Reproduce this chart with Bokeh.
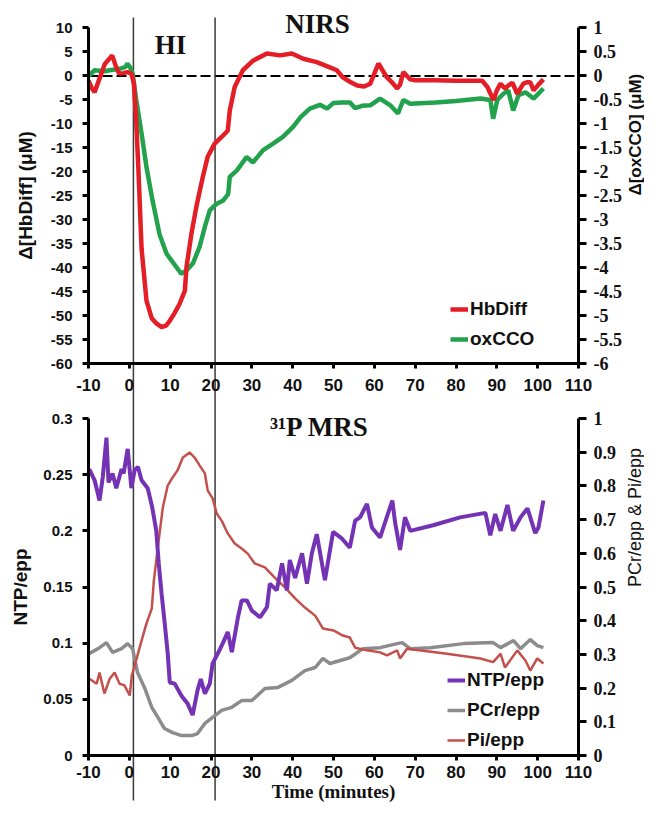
import math
from bokeh.plotting import figure
from bokeh.models import (Range1d, LinearAxis, FixedTicker, CustomJSTickFormatter,
                          Label, Legend, LegendItem)
from bokeh.embed import file_html
from bokeh.resources import INLINE

# ---------------- data ----------------
time_ticks = [-10, 0, 10, 20, 30, 40, 50, 60, 70, 80, 90, 100, 110]
hb_ticks = [-60, -55, -50, -45, -40, -35, -30, -25, -20, -15, -10, -5, 0, 5, 10]
cco_ticks = [-6, -5.5, -5, -4.5, -4, -3.5, -3, -2.5, -2, -1.5, -1, -0.5, 0, 0.5, 1]
ntp_ticks = [0, 0.05, 0.1, 0.15, 0.2, 0.25, 0.3]
pcr_ticks = [0, 0.1, 0.2, 0.3, 0.4, 0.5, 0.6, 0.7, 0.8, 0.9, 1]

hi_marks = [1, 21]          # start / end of hypoxia-ischaemia (minutes)

hb_t = [-10, -9.2, -8.5, -7.5, -6, -4.2, -3.3, -2.5, -1.5, -0.5,
        0.5, 1.1, 1.6, 2.2, 3, 4.2, 5.5, 6.7, 7.9, 9,
        9.9, 11, 12.3, 13.6, 14, 15.2, 16.4, 18, 19.2, 20.9,
        22.6, 24.1, 24.6, 25.8, 27.8, 30.3, 33.7, 36.9, 39.8, 42.6,
        45.9, 49.1, 50.8, 52.3, 54, 55.8, 57.5, 59, 60, 61,
        62, 63.1, 64.5, 65.6, 66.3, 67.1, 68, 68.8, 70, 75,
        80, 84, 86.4, 87.7, 88.5, 89.2, 90, 90.9, 92, 92.8,
        93.8, 95, 96.5, 97.5, 98.2, 99, 100, 101.4]
hb_v = [-1, -2.5, -3.4, -1, 2.5, 4.3, 2, 0.5, 0.6, 0.8,
        0.5, -1.5, -8, -19, -36, -46.8, -50.5, -51.6, -52.3, -52,
        -51, -49.5, -47.5, -44.7, -39.8, -32.9, -27.3, -21, -16.8, -14.1,
        -12.7, -11.4, -7.2, -2.3, 1.2, 3.2, 4.7, 4.3, 4.7, 3.6,
        2.9, 1.8, 1.2, -0.3, -1.2, -2, -2.2, -1.6, 0.5, 2.6,
        1.2, -0.3, -1.5, -2.6, -1.8, 0.8, 0, -0.7, -0.9, -0.9,
        -1, -1, -1, -2.3, -3.8, -5, -3, -1.6, -2.6, -2,
        -1.4, -3.7, -1.6, -1.3, -1.3, -3, -2, -0.7]

cco_t = [-10, -8.5, -6, -4.8, -2.4, -0.9, -0.5, 0.2, 0.8, 1.7,
         3, 4.2, 5.7, 7.4, 9.1, 11.5, 12.7, 14, 15.6, 17.2,
         18.5, 19.7, 21.4, 22.9, 24.2, 24.6, 26.3, 28.7, 30.3, 32.7,
         35.2, 37.6, 40.1, 42, 44.2, 46.7, 48.4, 50, 52, 54,
         55.3, 57, 59, 61.4, 63.9, 65.8, 67.1, 68.8, 75, 80,
         86, 88.4, 89.1, 90.1, 91.6, 92.8, 94, 95.3, 97, 99,
         101.4]
cco_v = [0, 0.12, 0.1, 0.12, 0.15, 0.19, 0.26, 0.18, 0.05, -0.5,
         -1.2, -1.9, -2.6, -3.3, -3.7, -3.98, -4.12, -4.05, -3.9, -3.56,
         -3.14, -2.8, -2.66, -2.6, -2.46, -2.1, -1.97, -1.69, -1.8, -1.55,
         -1.41, -1.27, -1.06, -0.85, -0.68, -0.6, -0.68, -0.56, -0.55, -0.55,
         -0.67, -0.62, -0.61, -0.47, -0.61, -0.78, -0.5, -0.58, -0.55, -0.52,
         -0.47, -0.5, -0.89, -0.5, -0.37, -0.3, -0.72, -0.4, -0.34, -0.47,
         -0.26]

ntp_t = [-9.8, -8.5, -7.3, -6.5, -5.6, -5.1, -4.1, -3.2, -1.9, -1.4,
         -0.4, 0.5, 1.3, 2.1, 3, 4.5, 5.6, 6.6, 7.2, 7.9,
         8.6, 9.4, 9.9, 11.1, 12.8, 14.3, 15.5, 16.7, 17.5, 18.5,
         19.7, 20.4, 21.7, 22.9, 24.1, 25.1, 26.6, 27.5, 28.8, 30,
         32, 33.7, 34.4, 36.1, 37.4, 38.6, 39.3, 40.6, 42.3, 43.5,
         44.7, 45.9, 47.9, 49.9, 52.1, 54, 55.3, 56.5, 58.2, 59.4,
         61.4, 64.4, 65.1, 66.3, 67.5, 68.8, 74.4, 81, 87.2, 88.4,
         89.6, 90.9, 92.6, 94, 95.8, 97.5, 99.4, 100.2, 101.4]
ntp_v = [0.255, 0.245, 0.227, 0.248, 0.283, 0.243, 0.251, 0.238, 0.255, 0.251,
         0.273, 0.238, 0.254, 0.257, 0.245, 0.238, 0.221, 0.2, 0.171, 0.144,
         0.12, 0.091, 0.065, 0.064, 0.053, 0.046, 0.036, 0.058, 0.068, 0.055,
         0.064, 0.082, 0.091, 0.1, 0.11, 0.092, 0.123, 0.138, 0.138, 0.129,
         0.123, 0.132, 0.153, 0.147, 0.171, 0.147, 0.174, 0.158, 0.18, 0.153,
         0.18, 0.197, 0.156, 0.199, 0.193, 0.185, 0.209, 0.212, 0.224, 0.203,
         0.194, 0.227, 0.207, 0.183, 0.212, 0.2, 0.205, 0.212, 0.216, 0.196,
         0.215, 0.2, 0.223, 0.2, 0.212, 0.22, 0.198, 0.203, 0.227]

pcr_t = [-10, -9.3, -7.3, -5.6, -4.1, -1.9, -0.4, 0.8, 2, 3.7,
         5.5, 7, 8.6, 10.6, 12.8, 15.3, 16.7, 18.5, 20.4, 22.6,
         25.1, 27.5, 30, 33.2, 36.4, 39.8, 43, 45.5, 47.4, 49.1,
         54, 57.2, 61.4, 65.6, 66.8, 68.8, 73.7, 81.8, 89.1, 90.9,
         94.1, 95.8, 98.2, 99.9, 101.4]
pcr_v = [0.3, 0.306, 0.32, 0.335, 0.306, 0.317, 0.332, 0.317, 0.246, 0.202,
         0.143, 0.113, 0.08, 0.068, 0.059, 0.059, 0.065, 0.095, 0.113, 0.134,
         0.143, 0.163, 0.163, 0.199, 0.202, 0.223, 0.252, 0.261, 0.288, 0.273,
         0.29, 0.317, 0.32, 0.332, 0.335, 0.317, 0.32, 0.332, 0.335, 0.32,
         0.341, 0.317, 0.344, 0.326, 0.32]

pi_t = [-9.8, -8, -7.3, -6.1, -4.8, -3.6, -2.4, -1.2, 0.1, 0.6,
        1.8, 3, 4.2, 5.5, 6.0, 6.6, 7.4, 8.2, 9.4, 10.6,
        11.8, 13.1, 14.8, 16, 17.2, 18.5, 19.2, 20.4, 21.4, 22.6,
        24.1, 25.8, 27.5, 29, 30.7, 33.2, 35.6, 38.1, 40.6, 43,
        45.5, 47.4, 50, 52.3, 54, 55.3, 58.2, 61.4, 63.1, 65.6,
        66.3, 68, 77.8, 86, 89.1, 90.9, 92, 95, 97, 98.2,
        99.9, 101.4]
pi_v = [0.228, 0.213, 0.246, 0.184, 0.228, 0.246, 0.213, 0.208, 0.178, 0.237,
        0.288, 0.341, 0.392, 0.436, 0.519, 0.579, 0.659, 0.736, 0.801, 0.825,
        0.846, 0.884, 0.899, 0.884, 0.861, 0.837, 0.786, 0.763, 0.718, 0.697,
        0.659, 0.629, 0.614, 0.599, 0.57, 0.558, 0.528, 0.499, 0.466, 0.439,
        0.415, 0.377, 0.371, 0.356, 0.35, 0.32, 0.312, 0.306, 0.297, 0.312,
        0.288, 0.317, 0.302, 0.288, 0.277, 0.302, 0.261, 0.312, 0.282, 0.252,
        0.288, 0.273]

# ---------------- figure ----------------
SANS = "Liberation Sans"
SERIF = "Liberation Serif"

# the frame fills the whole canvas; axes sit at fixed data locations inside it
p = figure(width=644, height=804, output_backend="svg", toolbar_location=None,
           x_range=Range1d(-31.551, 126.163), y_range=Range1d(-151.771, 15.729),
           x_axis_type=None, y_axis_type=None,
           min_border_left=0, min_border_right=0, min_border_top=0, min_border_bottom=0)
p.extra_y_ranges = {
    "cco": Range1d(-15.1771, 1.5729),
    "ntp": Range1d(-0.04362, 0.67211),
    "pcr": Range1d(-0.145401, 2.24036),
}
p.outline_line_color = None
p.background_fill_color = "white"

fmt = CustomJSTickFormatter(code="return String(Math.round(tick*1000)/1000)")


def style(ax, font, size, weight, tick_out, lstand, lab_font=SANS, lab_size="19px",
          lab_weight="bold", standoff=5):
    ax.axis_line_width = 3
    ax.axis_line_color = "black"
    ax.major_tick_line_width = 3
    ax.major_tick_out = tick_out
    ax.major_tick_in = 0
    ax.minor_tick_line_color = None
    ax.major_label_text_font = font
    ax.major_label_text_font_size = size
    ax.major_label_text_font_style = weight
    ax.major_label_text_color = "#111111"
    ax.major_label_standoff = lstand
    ax.axis_label_text_font = lab_font
    ax.axis_label_text_font_size = lab_size
    ax.axis_label_text_font_style = lab_weight
    ax.axis_label_text_color = "#111111"
    ax.axis_label_standoff = standoff


x0, x1 = time_ticks[0], time_ticks[-1]

ax_hb = LinearAxis(ticker=FixedTicker(ticks=hb_ticks), formatter=fmt, bounds=(-60, 10),
                   fixed_location=x0, axis_label="Δ[HbDiff] (μM)")
style(ax_hb, SANS, "15px", "bold", 6, 10, standoff=12)
p.add_layout(ax_hb, "left")

ax_ntp = LinearAxis(y_range_name="ntp", ticker=FixedTicker(ticks=ntp_ticks), formatter=fmt,
                    bounds=(0, 0.3), fixed_location=x0, axis_label="NTP/epp")
style(ax_ntp, SANS, "15px", "bold", 6, 10, standoff=9)
p.add_layout(ax_ntp, "left")

ax_cco = LinearAxis(y_range_name="cco", ticker=FixedTicker(ticks=cco_ticks), formatter=fmt,
                    bounds=(-6, 1), fixed_location=x1, axis_label="Δ[oxCCO] (μM)")
style(ax_cco, SERIF, "18px", "bold", 8, 7, lab_size="17px", standoff=11)
ax_cco.axis_label_orientation = math.pi / 2
p.add_layout(ax_cco, "right")

ax_pcr = LinearAxis(y_range_name="pcr", ticker=FixedTicker(ticks=pcr_ticks), formatter=fmt,
                    bounds=(0, 1), fixed_location=x1, axis_label="PCr/epp & Pi/epp")
style(ax_pcr, SERIF, "18px", "bold", 8, 7, lab_size="18px", lab_weight="normal", standoff=16)
ax_pcr.axis_label_orientation = math.pi / 2
p.add_layout(ax_pcr, "right")

ax_x1 = LinearAxis(ticker=FixedTicker(ticks=time_ticks), formatter=fmt, bounds=(x0, x1),
                   fixed_location=hb_ticks[0])
style(ax_x1, SANS, "17px", "bold", 5, 10)
p.add_layout(ax_x1, "below")

ax_x2 = LinearAxis(y_range_name="ntp", ticker=FixedTicker(ticks=time_ticks), formatter=fmt,
                   bounds=(x0, x1), fixed_location=ntp_ticks[0], axis_label="Time (minutes)")
style(ax_x2, SANS, "17px", "bold", 5, 5, lab_font=SERIF, lab_size="19px", standoff=0)
p.add_layout(ax_x2, "below")

# reference lines: dashed zero line of the NIRS panel, HI start / end markers
p.line([x0, x1], [0, 0], line_color="black", line_width=2, line_dash="10 4")
p.segment(x0=hi_marks, x1=hi_marks, y0=[12.19] * len(hi_marks), y1=[-150.94] * len(hi_marks),
          line_color="#3a3a3a", line_width=1.5)

# series
r_pcr = p.line(pcr_t, pcr_v, y_range_name="pcr", line_color="#8c8c8c", line_width=3.5)
r_pi = p.line(pi_t, pi_v, y_range_name="pcr", line_color="#c4504c", line_width=2.5)
r_ntp = p.line(ntp_t, ntp_v, y_range_name="ntp", line_color="#7432b4", line_width=4)
r_cco = p.line(cco_t, cco_v, y_range_name="cco", line_color="#22a24c", line_width=4.5)
r_hb = p.line(hb_t, hb_v, line_color="#e41e26", line_width=4.5)


def legend(items, loc):
    lg = Legend(items=items, location=loc, padding=0, margin=0, spacing=4,
                glyph_width=18, glyph_height=26, label_standoff=2, label_height=26,
                label_text_font=SANS, label_text_font_style="bold", label_text_font_size="19px",
                label_text_color="#111111",
                background_fill_alpha=0, border_line_color=None)
    p.add_layout(lg)


legend([LegendItem(label="HbDiff", renderers=[r_hb]),
        LegendItem(label="oxCCO", renderers=[r_cco])], (450, 452))
legend([LegendItem(label="NTP/epp", renderers=[r_ntp]),
        LegendItem(label="PCr/epp", renderers=[r_pcr]),
        LegendItem(label="Pi/epp", renderers=[r_pi])], (447, 51))

# panel titles
for txt, x, y, rng in [("NIRS", 46.1, 10.9, "default"), ("HI", 10.1, 6.4, "default"),
                       ("³¹P MRS", 46.6, 0.292, "ntp")]:
    p.add_layout(Label(x=x, y=y, y_range_name=rng, text=txt, text_font=SERIF,
                       text_font_style="bold", text_font_size="27px", text_color="#111111",
                       text_align="center", text_baseline="middle"))

open("out.html", "w").write(file_html(p, INLINE))
